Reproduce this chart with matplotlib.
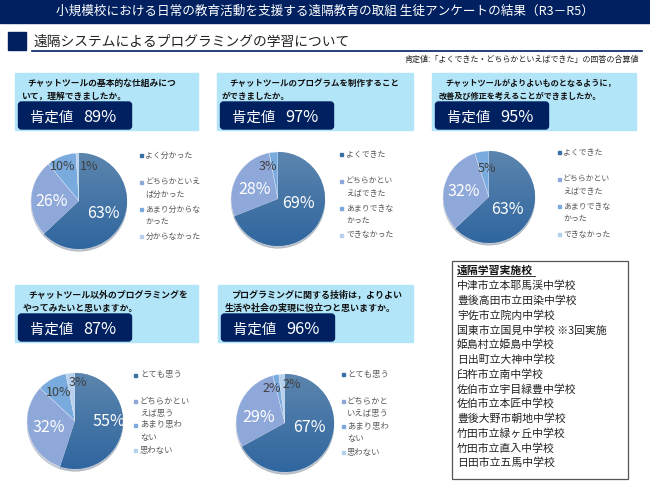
"""Survey result slide: five pie charts with a list of schools
"""

import matplotlib
matplotlib.use("Agg")
import matplotlib.pyplot as plt
import numpy as np
from matplotlib.colors import LinearSegmentedColormap
from matplotlib.patches import FancyBboxPatch, Rectangle

plt.rcParams['font.family'] = ['Noto Sans CJK JP', 'DejaVu Sans']

W, H = 650, 487

title = "小規模校における日常の教育活動を支援する遠隔教育の取組 生徒アンケートの結果（R3－R5）"
heading = "遠隔システムによるプログラミングの学習について"
note = "肯定値:「よくできた・どちらかといえばできた」の回答の合算値"

questions = [
    ["チャットツールの基本的な仕組みにつ", "いて，理解できましたか。"],
    ["チャットツールのプログラムを制作すること", "ができましたか。"],
    ["チャットツールがよりよいものとなるように，", "改善及び修正を考えることができましたか。"],
    ["チャットツール以外のプログラミングを", "やってみたいと思いますか。"],
    ["プログラミングに関する技術は，よりよい", "生活や社会の実現に役立つと思いますか。"],
]
scores = [89, 97, 95, 87, 96]

values_1 = [63, 26, 10, 1]
values_2 = [69, 28, 3, 0]
values_3 = [63, 32, 5, 0]
values_4 = [55, 32, 10, 3]
values_5 = [67, 29, 2, 2]

legend_1 = ["よく分かった", "どちらかといえ\nば分かった", "あまり分からな\nかった", "分からなかった"]
legend_2 = ["よくできた", "どちらかとい\nえばできた", "あまりできな\nかった", "できなかった"]
legend_3 = ["よくできた", "どちらかとい\nえばできた", "あまりできな\nかった", "できなかった"]
legend_4 = ["とても思う", "どちらかとい\nえば思う", "あまり思わ\nない", "思わない"]
legend_5 = ["とても思う", "どちらかと\nいえば思う", "あまり思わ\nない", "思わない"]

schools_title = "遠隔学習実施校"
schools = [
    "中津市立本耶馬渓中学校", "豊後高田市立田染中学校", "宇佐市立院内中学校",
    "国東市立国見中学校 ※3回実施", "姫島村立姫島中学校", "日出町立大神中学校",
    "臼杵市立南中学校", "佐伯市立宇目緑豊中学校", "佐伯市立本匠中学校",
    "豊後大野市朝地中学校", "竹田市立緑ヶ丘中学校", "竹田市立直入中学校",
    "日田市立五馬中学校",
]

NAVY = "#002060"
PALE = "#b3e5f9"
PIE_COLORS = ["#3b70a6", "#8fa8da", "#7aabdf", "#b6d0ee"]
GREY = "#595959"
DARK = "#3f3f3f"

# pie centre x, centre y, radius, marker x, text x, y of each legend entry
pies = [
    (values_1, legend_1, 79, 201, 48, 140, 145.5, [155, 182, 209, 236], 5.7),
    (values_2, legend_2, 278, 199, 47, 340, 346, [154, 181, 208, 235], 5.7),
    (values_3, legend_3, 489, 197, 46, 558, 563, [152, 179, 206, 234], 5.7),
    (values_4, legend_4, 75, 421, 48, 134, 140, [375, 401, 425, 450], 6.0),
    (values_5, legend_5, 285, 423, 49, 342, 347, [374, 401, 426, 452], 6.0),
]
# panel x, y, w, h, text x of both lines, question font size
panels = [
    (15, 73, 183, 57, 27, 21, 6.3),
    (217, 73, 196, 57, 229, 222, 6.1),
    (432, 73, 204, 57, 445, 439, 5.9),
    (15, 285, 183, 57, 28, 23, 6.4),
    (218, 285, 195, 57, 231, 225, 6.5),
]

fig = plt.figure(figsize=(W / 100, H / 100), dpi=100)
bg = fig.add_axes([0, 0, 1, 1])
bg.set_xlim(0, W)
bg.set_ylim(H, 0)
bg.axis('off')

# Header
bg.add_patch(Rectangle((0, 0), W, 23, color=NAVY))
bg.text(325, 11.5, title, color="white", fontsize=9.1, ha='center', va='center')
bg.add_patch(Rectangle((8, 32), 18, 18, color=NAVY))
bg.text(34, 42, heading, color="#222222", fontsize=9.9, va='center')
bg.plot([32, 642], [51, 51], color=NAVY, lw=1.2)
bg.text(639, 59, note, color="#222222", fontsize=5.8, ha='right', va='center')

# Question panels
for i, (x, y, w, h, x1, x2, size) in enumerate(panels):
    bg.add_patch(Rectangle((x, y), w, h, color=PALE))
    bg.text(x1, y + 10, questions[i][0], fontsize=size, weight='bold', color="#111111", va='center')
    bg.text(x2, y + 23, questions[i][1], fontsize=size, weight='bold', color="#111111", va='center')
    bg.add_patch(FancyBboxPatch((x + 3.5, y + 29), 113, 27,
                                boxstyle="round,pad=0,rounding_size=3", color=NAVY))
    bg.text(x + 15, y + 44.5, "肯定値", color="white", fontsize=10.4, va='center')
    bg.text(x + 68, y + 44.5, f"{scores[i]}%", color="white", fontsize=11.8, va='center')

# Pies
first_slice = LinearSegmentedColormap.from_list("first_slice", ["#5b85ae", "#30669f"])
for values, labels, cx, cy, r, mx, tx, ly, size in pies:
    pad = 1.12
    ax = fig.add_axes([(cx - r * pad) / W, 1 - (cy + r * pad) / H, 2 * r * pad / W, 2 * r * pad / H])
    wedges, _ = ax.pie(values, colors=PIE_COLORS, startangle=90, counterclock=False, radius=1,
                       wedgeprops=dict(linewidth=0.3, edgecolor="#e8eef6"),
                       shadow=dict(ox=0, oy=-0.035, shade=0.5, alpha=0.3))
    ax.set_xlim(-pad, pad)
    ax.set_ylim(-pad, pad)

    # the big slice gets lighter towards the top
    shade = np.linspace(0, 1, 64).reshape(-1, 1)
    img = ax.imshow(shade, cmap=first_slice, extent=(-1, 1, -1, 1), origin='upper', zorder=3, aspect='auto')
    img.set_clip_path(wedges[0])
    ax.set_xlim(-pad, pad)
    ax.set_ylim(-pad, pad)

    for j, label in enumerate(labels):
        bg.add_patch(Rectangle((mx, ly[j] - 1.5), 3, 3, color=PIE_COLORS[j]))
        for n, part in enumerate(label.split("\n")):
            bg.text(tx, ly[j] + n * 12.3, part, fontsize=size, color=GREY, va='center')

# Percent labels, placed by hand like the original
pct_labels = [
    (103, 213, "63%", "white"), (52, 201, "26%", "white"), (63, 167, "10%", DARK), (89, 166, "1%", DARK),
    (298, 204, "69%", "white"), (255, 190, "28%", "white"), (268, 167, "3%", DARK),
    (507, 209, "63%", "white"), (464, 191, "32%", "white"), (487, 168, "5%", DARK),
    (109, 422, "55%", "white"), (49, 428, "32%", "white"), (59, 393, "10%", DARK), (78, 383, "3%", DARK),
    (309, 428, "67%", "white"), (259, 417, "29%", "white"), (272, 388, "2%", DARK), (292, 384, "2%", DARK),
]
for x, y, text, color in pct_labels:
    white = color == "white"
    fig.text(x / W, 1 - y / H, text, color=color, fontsize=11.5 if white else 9,
             ha='center', va='center', zorder=10)

# School list
bg.add_patch(Rectangle((452, 261), 176, 218, facecolor="white", edgecolor="#555555", lw=0.9))
bg.text(457, 271, schools_title, fontsize=7.8, weight='bold', color="#111111", va='center')
bg.plot([457, 535], [276, 276], color="#111111", lw=0.6)
for k, school in enumerate(schools):
    bg.text(457, 286 + k * 14.75, school, fontsize=7.8, color="#222222", va='center')

fig.savefig("out.png", dpi=100)
